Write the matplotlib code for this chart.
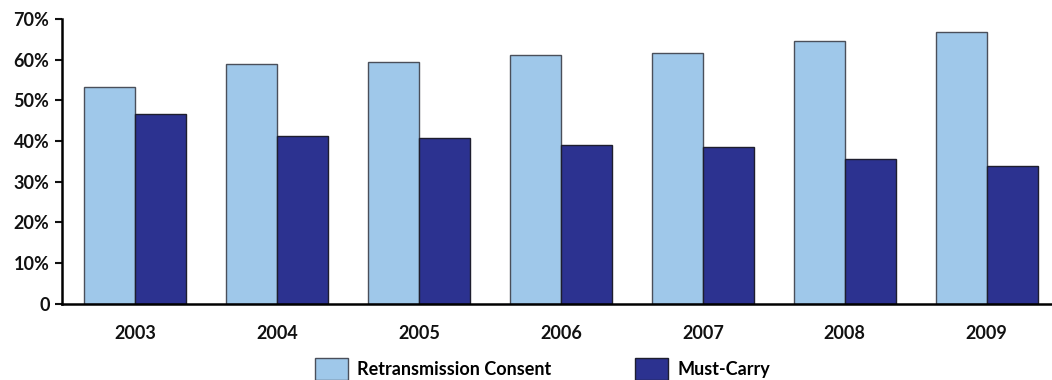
import numpy as np
import matplotlib.pyplot as plt

# Data
years = ["2003", "2004", "2005", "2006", "2007", "2008", "2009"]
retrans = [53.3, 58.9, 59.4, 61.2, 61.7, 64.5, 66.7]
must_carry = [46.7, 41.2, 40.7, 38.9, 38.5, 35.6, 33.8]
y_ticks = [0, 10, 20, 30, 40, 50, 60, 70]
y_labels = ["0", "10%", "20%", "30%", "40%", "50%", "60%", "70%"]

plt.rcParams["font.family"] = ["Lato", "DejaVu Sans"]
plt.rcParams["font.weight"] = "bold"

fig = plt.figure(figsize=(10.52, 3.8), dpi=100)
ax = fig.add_axes([62 / 1052, 1 - 303.7 / 380, 1 - 62 / 1052, (303.7 - 19) / 380])

x = np.arange(len(years))
w = 0.36
ax.bar(x - w / 2, retrans, w, color="#9FC8EA", edgecolor="#4a4f5a", linewidth=1.0,
       label="Retransmission Consent")
ax.bar(x + w / 2, must_carry, w, color="#2C3290", edgecolor="#1e1e2e", linewidth=1.0,
       label="Must-Carry")

ax.set_xlim(-0.515, 6.46)
ax.set_ylim(0, 70)
ax.set_yticks(y_ticks)
ax.set_yticklabels(y_labels)
ax.set_xticks(x)
ax.set_xticklabels(years)

ax.spines["top"].set_visible(False)
ax.spines["right"].set_visible(False)
ax.spines["left"].set_linewidth(1.8)
ax.spines["bottom"].set_linewidth(1.8)
ax.tick_params(axis="y", length=5, width=1.5, labelsize=13, pad=4, colors="#111111")
ax.tick_params(axis="x", length=0, labelsize=13, pad=15, colors="#111111")

fig.legend(loc="upper left", bbox_to_anchor=(315 / 1052, 22 / 380), ncol=2,
           frameon=False, fontsize=13, borderpad=0, borderaxespad=0,
           handlelength=1.85, handleheight=1.5, handletextpad=0.5, columnspacing=4.6)

fig.savefig("out.png", dpi=100)
